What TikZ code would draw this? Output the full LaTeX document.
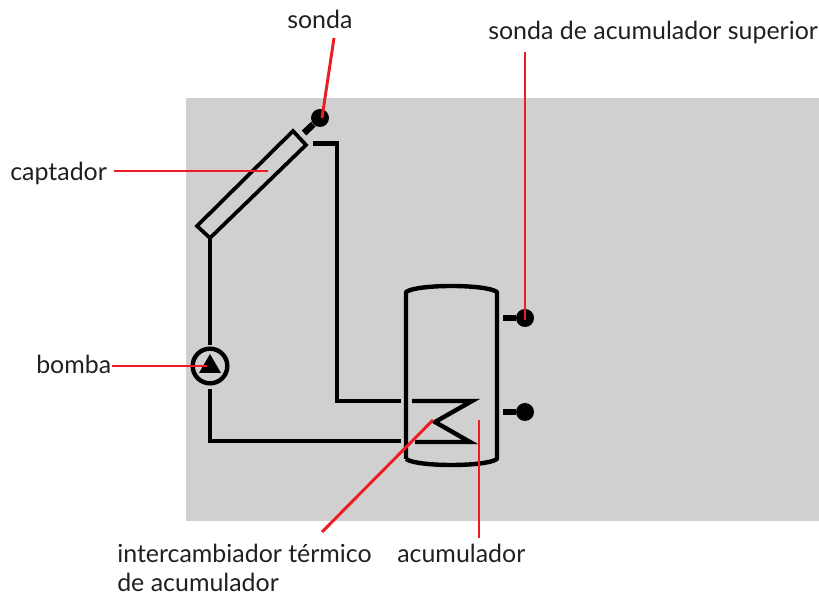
\documentclass[tikz,border=0pt]{standalone}
\usepackage{fontspec}
\setmainfont{Lato}
\usepackage{tikz}

\definecolor{panelgray}{HTML}{D0D0D0}
\definecolor{leadred}{HTML}{ED1C24}
\definecolor{labelink}{HTML}{231F20}

\begin{document}
\begin{tikzpicture}[%
        x = 0.75pt,
        y = -0.75pt,
        pipe_line/.style = {draw = black, line width = 3.3pt, line cap = butt, line join = miter},
        lead_line/.style = {draw = leadred, line width = 2.2pt},
        sensor_dot/.style = {circle, fill = black, inner sep = 0pt, minimum size = 13.5pt},
        callout/.style = {inner sep = 0pt, text = labelink, font = \fontsize{18.7}{21.75}\selectfont, align = left, anchor = base west}
    ]

        \useasboundingbox (0, 0) rectangle (819, 598);
        \fill[panelgray] (186, 98) rectangle (819, 521);

        % Collector and its sensor.
        \coordinate (CA) at (293, 131);
        \coordinate (CB) at (306, 145);
        \coordinate (CC) at (210, 238);
        \coordinate (CD) at (197, 226);
        \draw[pipe_line, line width = 2.8pt] (CA) to (CB) to (CC) to (CD) to cycle;
        \node[sensor_dot] (collector_dot) at (320, 118) {};
        \coordinate (collector_stem) at (304, 133);
        \draw[pipe_line, line width = 5pt] (collector_stem) to (collector_dot);

        % Pump.
        \node[circle, draw = black, line width = 3.3pt, inner sep = 0pt, minimum size = 26pt] (pump) at (210, 366) {};
        \coordinate (TA) at (210, 354);
        \coordinate (TB) at (221, 373);
        \coordinate (TC) at (199, 373);
        \fill (TA) to (TB) to (TC) to cycle;

        % Storage tank.
        \coordinate (TL) at (406, 292);
        \coordinate (TR) at (497, 292);
        \coordinate (BR) at (497, 459);
        \coordinate (BL) at (406, 459);
        \draw[pipe_line, line join = round] (BL) to (TL)
            .. controls (417, 284) and (486, 284) .. (TR)
            to (BR)
            .. controls (486, 467) and (417, 467) .. (BL);

        % Flow and return.
        \coordinate (flow_start) at (313, 143.5);
        \coordinate (flow_corner) at (337, 143.5);
        \coordinate (flow_bend) at (337, 401);
        \coordinate (flow_end) at (401, 401);
        \draw[pipe_line] (flow_start) to (flow_corner) to (flow_bend) to (flow_end);
        \coordinate (coil_start) at (412, 401);
        \coordinate (coil_right) at (472, 401);
        \coordinate (coil_tip) at (435, 422);
        \coordinate (coil_low) at (470, 442);
        \coordinate (coil_end) at (415, 442);
        \draw[pipe_line] (coil_start) to (coil_right) to (coil_tip) to (coil_low) to (coil_end);
        \coordinate (return_end) at (401, 441);
        \coordinate (return_bend) at (210, 441);
        \coordinate (return_start) at (210, 389);
        \draw[pipe_line] (return_end) to (return_bend) to (return_start);
        \coordinate (riser_start) at (210, 238);
        \coordinate (riser_end) at (210, 345);
        \draw[pipe_line] (riser_start) to (riser_end);

        % Tank sensors.
        \node[sensor_dot] (upper_dot) at (525, 318) {};
        \node[sensor_dot] (lower_dot) at (525, 412) {};
        \coordinate (upper_stem) at (503, 318);
        \coordinate (lower_stem) at (503, 412);
        \draw[pipe_line, line width = 5pt] (upper_stem) to (upper_dot);
        \draw[pipe_line, line width = 5pt] (lower_stem) to (lower_dot);

        % Labels.
        \node[callout] (sonda) at (287, 29) {sonda};
        \node[callout] (superior) at (488, 40) {sonda de acumulador superior};
        \node[callout] (captador) at (10, 181) {captador};
        \node[callout] (bomba) at (36, 374) {bomba};
        \node[callout] (intercambiador) at (117, 592) {intercambiador térmico\\de acumulador};
        \node[callout] (acumulador) at (397, 563) {acumulador};

        % Red leaders.
        \coordinate (sonda_from) at (334, 38);
        \coordinate (sonda_to) at (322, 118);
        \coordinate (superior_from) at (525, 52);
        \coordinate (superior_to) at (525, 320);
        \coordinate (captador_from) at (114, 171);
        \coordinate (captador_to) at (268, 171);
        \coordinate (bomba_from) at (112, 366);
        \coordinate (bomba_to) at (207, 366);
        \coordinate (exchanger_from) at (322, 532);
        \coordinate (exchanger_to) at (433, 420);
        \coordinate (tank_from) at (479, 538);
        \coordinate (tank_to) at (479, 420);
        \draw[lead_line] (sonda_from) to (sonda_to);
        \draw[lead_line] (superior_from) to (superior_to);
        \draw[lead_line] (captador_from) to (captador_to);
        \draw[lead_line] (bomba_from) to (bomba_to);
        \draw[lead_line] (exchanger_from) to (exchanger_to);
        \draw[lead_line] (tank_from) to (tank_to);
    \end{tikzpicture}
\end{document}
